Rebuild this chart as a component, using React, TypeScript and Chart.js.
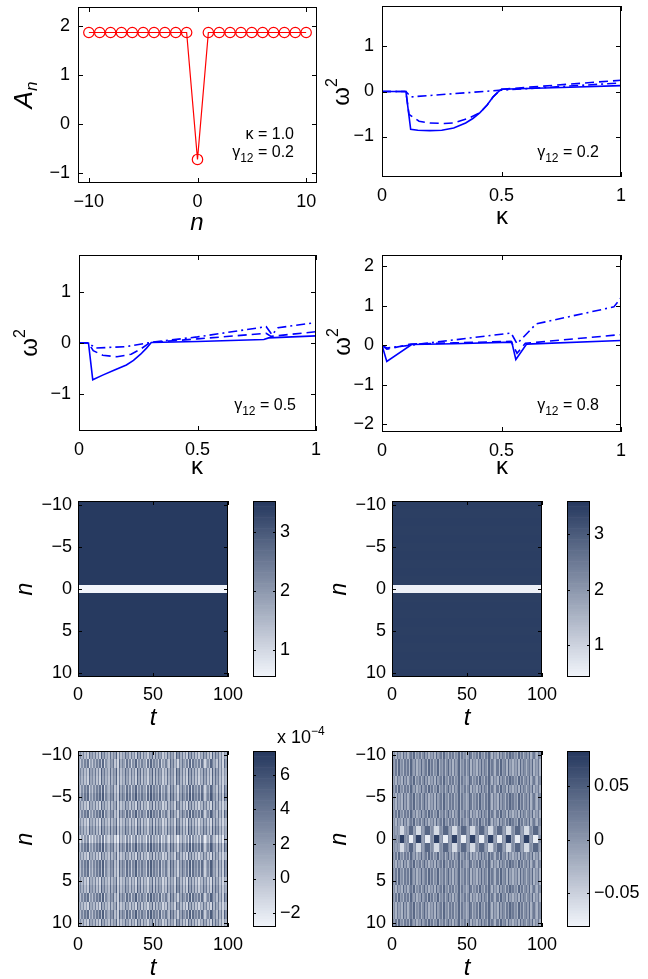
import { useEffect, useRef } from 'react';
import { Chart, registerables } from 'chart.js';

Chart.register(...registerables);

const PAGE_W = 648;
const PAGE_H = 979;
const FONT = '"Liberation Sans", Arial, Helvetica, sans-serif';
const TICK_FONT_SIZE = 18;

// ---------- Stationary profile A_n (kappa = 1.0, gamma12 = 0.2)
const SITES = [-10, -9, -8, -7, -6, -5, -4, -3, -2, -1, 0, 1, 2, 3, 4, 5, 6, 7, 8, 9, 10];
const AMPLITUDE = [1.87, 1.87, 1.87, 1.87, 1.87, 1.87, 1.87, 1.87, 1.87, 1.87, -0.72, 1.87, 1.87, 1.87, 1.87, 1.87, 1.87, 1.87, 1.87, 1.87, 1.87];

// ---------- Stability eigenvalues omega^2 versus kappa
// gamma12 = 0.2
const G02_SOLID_K = [0, 0.1, 0.12, 0.15, 0.2, 0.25, 0.3, 0.35, 0.38, 0.41, 0.44, 0.465, 0.49, 0.5, 0.75, 1];
const G02_SOLID_W = [0, 0, -0.84, -0.86, -0.87, -0.86, -0.81, -0.7, -0.6, -0.47, -0.3, -0.12, 0.01, 0.05, 0.09, 0.13];
const G02_DASH_K = [0, 0.1, 0.113, 0.155, 0.2, 0.26, 0.3, 0.36, 0.41, 0.44, 0.465, 0.49, 0.5, 1];
const G02_DASH_W = [0, 0, -0.51, -0.66, -0.7, -0.71, -0.7, -0.6, -0.47, -0.3, -0.12, 0.01, 0.05, 0.25];
const G02_DOT_K = [0, 0.1, 0.12, 0.5, 1];
const G02_DOT_W = [0, 0, -0.12, 0.03, 0.19];
// gamma12 = 0.5
const G05_SOLID_K = [0, 0.04, 0.058, 0.1, 0.15, 0.2, 0.23, 0.26, 0.285, 0.305, 0.5, 0.78, 0.8, 1];
const G05_SOLID_W = [0, 0, -0.72, -0.63, -0.53, -0.43, -0.34, -0.22, -0.1, 0.01, 0.03, 0.07, 0.1, 0.14];
const G05_DASH_K = [0, 0.04, 0.06, 0.1, 0.16, 0.22, 0.26, 0.3, 0.5, 0.79, 0.81, 1];
const G05_DASH_W = [0, 0, -0.15, -0.24, -0.27, -0.22, -0.12, 0.01, 0.08, 0.19, 0.13, 0.22];
const G05_DOT_K = [0, 0.04, 0.07, 0.2, 0.3, 0.5, 0.79, 0.815, 0.84, 1];
const G05_DOT_W = [0, 0, -0.1, -0.07, 0.01, 0.12, 0.32, 0.16, 0.3, 0.4];
// gamma12 = 0.8
const G08_SOLID_K = [0, 0.02, 0.124, 0.3, 0.543, 0.56, 0.605, 1];
const G08_SOLID_W = [0, -0.41, 0.02, 0.04, 0.08, -0.36, 0.03, 0.12];
const G08_DASH_K = [0, 0.02, 0.12, 0.3, 0.54, 0.565, 0.6, 1];
const G08_DASH_W = [0, -0.1, 0.03, 0.06, 0.1, -0.2, 0.05, 0.27];
const G08_DOT_K = [0, 0.02, 0.54, 0.565, 0.645, 0.97, 1];
const G08_DOT_W = [0, -0.07, 0.31, 0.04, 0.54, 0.97, 1.2];

// ---------- Tick values
const PROFILE_X_TICKS = [-10, 0, 10];
const PROFILE_Y_TICKS = [-1, 0, 1, 2];
const KAPPA_TICKS = [0, 0.5, 1];
const OMEGA_TICKS = [-1, 0, 1];
const OMEGA_TICKS_WIDE = [-2, -1, 0, 1, 2];
const TIME_TICKS = [0, 50, 100];
const SITE_TICKS = [-10, -5, 0, 5, 10];
const DENSITY_CB_TICKS = [1, 2, 3];
const PERT_SMALL_CB_TICKS = [-2, 0, 2, 4, 6];
const PERT_LARGE_CB_TICKS = [-0.05, 0, 0.05];

// ---------- |A_n|^2 evolution (rows n = -10..10, constant in t)
const DENSITY_ROWS_LEFT = [3.49, 3.49, 3.49, 3.49, 3.49, 3.49, 3.49, 3.49, 3.49, 3.49, 0.53, 3.49, 3.49, 3.49, 3.49, 3.49, 3.49, 3.49, 3.49, 3.49, 3.49];
const DENSITY_ROWS_RIGHT = [3.5, 3.49, 3.5, 3.49, 3.5, 3.49, 3.5, 3.49, 3.5, 3.49, 0.5, 3.49, 3.5, 3.49, 3.5, 3.49, 3.5, 3.49, 3.5, 3.49, 3.5];

// ---------- Perturbation evolution, small (x 1e-4): column level strings, per-row pattern and shift
const SMALL_LEVELS = [-1.6, -0.85, -0.1, 0.65, 1.4, 2.15, 2.9, 3.65, 4.4, 5.15];
const SMALL_COL_A = ['4636251846', '3726194735', '2836491725', '3846273619', '4827351649', '2837461528', '3746195837', '2619483726', '1538472619', '3847261538'];
const SMALL_COL_B = ['5263748152', '6374829164', '3758261947', '5283716492', '6374518293', '7462815374', '2958361748', '5372918463', '7285146397', '4628371952'];
const SMALL_ROW_PATTERN = ['a', 'b', 'a', 'a', 'b', 'b', 'a', 'b', 'a', 'a', 'b', 'b', 'a', 'b', 'b', 'a', 'a', 'b', 'a', 'b', 'a'];
const SMALL_ROW_SHIFT = [0.2, -0.3, 0.3, 0, -0.2, 0.4, -0.1, 0.1, -0.3, 0.5, -1.5, 0.3, -0.2, 0.2, 0, -0.3, 0.3, 0.1, -0.2, 0.2, 0];

// ---------- Perturbation evolution, large
const LARGE_LEVELS = [-0.075, -0.058, -0.042, -0.025, -0.008, 0.008, 0.025, 0.042, 0.058, 0.075];
const LARGE_COL_A = ['4536453746', '3564735463', '5746354637', '4563745364', '6354736453', '4763546374', '5364753645', '3746536475', '6453746356', '4735643657'];
const LARGE_COL_B = ['5463745364', '6375463547', '4563746354', '7354635746', '3645735463', '5736453647', '4653746536', '6374563745', '3546374653', '5647354636'];
const LARGE_CENTER = ['45545', '999', '545', '000', '45', '999', '545', '000', '454', '999', '545', '000', '545', '999', '454', '000', '545', '999', '545', '000', '454', '999', '545', '000', '545', '999', '454', '000', '545', '999', '545', '000', '454'];
const LARGE_NEAR = ['45454', '111', '454', '777', '45', '111', '545', '777', '454', '111', '454', '777', '545', '111', '454', '777', '545', '111', '454', '777', '545', '111', '454', '777', '545', '111', '454', '777', '545', '111', '454', '777', '545'];
const LARGE_ROW_PATTERN = ['a', 'b', 'b', 'a', 'b', 'a', 'a', 'b', 'a', 'near', 'center', 'near', 'b', 'a', 'b', 'b', 'a', 'b', 'a', 'a', 'b'];

// ---------- Colour map (light -> dark navy)
const CMAP_LIGHT = [242, 245, 251];
const CMAP_DARK = [37, 56, 94];

function shade(f: number) {
  const g = Math.max(0, Math.min(1, f));
  const c = CMAP_LIGHT.map((l, i) => Math.round(l + (CMAP_DARK[i] - l) * g));
  return `rgb(${c[0]},${c[1]},${c[2]})`;
}

function fmtTick(v: number) {
  const s = String(Math.round(Math.abs(v) * 1e6) / 1e6);
  return v < 0 ? '\u2212' + s : s;
}

type Box = { left: number; top: number; right: number; bottom: number };
const Y_AXIS_SPACE = 60;
const X_AXIS_SPACE = 40;
const CB_AXIS_SPACE = 56;

function plotLayout(b: Box) {
  return {
    padding: {
      left: b.left - Y_AXIS_SPACE,
      top: b.top,
      right: PAGE_W - b.right,
      bottom: PAGE_H - b.bottom - X_AXIS_SPACE,
    },
  };
}

function linAxis(min: number, max: number, ticks: number[], space: number, pad: number, extra: any = {}) {
  return {
    type: 'linear',
    min,
    max,
    grid: { display: false, drawTicks: false },
    border: { display: false },
    ticks: {
      color: '#000',
      font: { family: FONT, size: TICK_FONT_SIZE },
      padding: pad,
      autoSkip: false,
      maxRotation: 0,
      minRotation: 0,
      callback: (v: any) => fmtTick(Number(v)),
    },
    afterBuildTicks: (s: any) => {
      s.ticks = ticks.map((value) => ({ value }));
    },
    afterFit: (s: any) => {
      if (s.isHorizontal()) s.height = space;
      else s.width = space;
      s.paddingLeft = 0;
      s.paddingRight = 0;
      s.paddingTop = 0;
      s.paddingBottom = 0;
    },
    ...extra,
  };
}

const BASE_OPTIONS = {
  responsive: false,
  animation: false,
  devicePixelRatio: 1,
  events: [],
  plugins: { legend: { display: false }, tooltip: { enabled: false } },
};

// ---------- Plugins
function frameTicks(len: number) {
  return {
    id: 'frameTicks',
    afterDatasetsDraw(chart: any) {
      const { ctx, chartArea: a, scales } = chart;
      ctx.save();
      ctx.strokeStyle = '#000';
      ctx.lineWidth = 1;
      ctx.beginPath();
      for (const s of Object.values(scales) as any[]) {
        if (s.options.display === false) continue;
        for (const t of s.ticks) {
          const p = Math.round(s.getPixelForValue(t.value)) + 0.5;
          if (s.isHorizontal()) {
            ctx.moveTo(p, a.bottom);
            ctx.lineTo(p, a.bottom - len);
            ctx.moveTo(p, a.top);
            ctx.lineTo(p, a.top + len);
          } else {
            ctx.moveTo(a.left, p);
            ctx.lineTo(a.left + len, p);
            ctx.moveTo(a.right, p);
            ctx.lineTo(a.right - len, p);
          }
        }
      }
      ctx.stroke();
      ctx.strokeRect(a.left + 0.5, a.top + 0.5, a.width - 1, a.height - 1);
      ctx.restore();
    },
  };
}

type Part = { t: string; size: number; italic?: boolean; dy?: number };
type RichItem = { x: number; y: number; parts: Part[]; align?: 'left' | 'center' | 'right'; rotate?: boolean };

function richText(items: RichItem[]) {
  return {
    id: 'richText',
    afterDraw(chart: any) {
      const ctx = chart.ctx;
      for (const it of items) {
        ctx.save();
        ctx.translate(it.x, it.y);
        if (it.rotate) ctx.rotate(-Math.PI / 2);
        ctx.fillStyle = '#000';
        ctx.textBaseline = 'alphabetic';
        ctx.textAlign = 'left';
        const fontOf = (p: Part) => `${p.italic ? 'italic ' : ''}${p.size}px ${FONT}`;
        const widths = it.parts.map((p) => {
          ctx.font = fontOf(p);
          return ctx.measureText(p.t).width;
        });
        const total = widths.reduce((s, w) => s + w, 0);
        let x = it.align === 'center' ? -total / 2 : it.align === 'right' ? -total : 0;
        it.parts.forEach((p, i) => {
          ctx.font = fontOf(p);
          ctx.fillText(p.t, x, p.dy || 0);
          x += widths[i];
        });
        ctx.restore();
      }
    },
  };
}

// Cells are snapped to whole pixels so neighbouring rows/columns meet without seams.
function cellLayer(cmin: number, cmax: number) {
  return {
    id: 'cellLayer',
    beforeDatasetsDraw(chart: any) {
      const { ctx, chartArea: a } = chart;
      const xs = chart.scales.x;
      const ys = chart.scales.y;
      ctx.save();
      ctx.beginPath();
      ctx.rect(a.left, a.top, a.width, a.height);
      ctx.clip();
      for (const c of chart.data.datasets[0].data) {
        const xa = Math.round(xs.getPixelForValue(c.x0));
        const xb = Math.round(xs.getPixelForValue(c.x1));
        const ya = Math.round(ys.getPixelForValue(c.y - 0.5));
        const yb = Math.round(ys.getPixelForValue(c.y + 0.5));
        ctx.fillStyle = shade((c.v - cmin) / (cmax - cmin));
        ctx.fillRect(Math.min(xa, xb), Math.min(ya, yb), Math.max(1, Math.abs(xb - xa)), Math.max(1, Math.abs(yb - ya)));
      }
      ctx.restore();
    },
  };
}

function bandLayer(cmin: number, cmax: number, step: number) {
  return {
    id: 'bandLayer',
    beforeDatasetsDraw(chart: any) {
      const { ctx, chartArea: a } = chart;
      const ys = chart.scales.y;
      ctx.save();
      ctx.beginPath();
      ctx.rect(a.left, a.top, a.width, a.height);
      ctx.clip();
      for (const p of chart.data.datasets[0].data) {
        const y0 = ys.getPixelForValue(p.y - step / 2);
        const y1 = ys.getPixelForValue(p.y + step / 2);
        ctx.fillStyle = shade((p.y - cmin) / (cmax - cmin));
        ctx.fillRect(a.left, Math.min(y0, y1) - 0.3, a.width, Math.abs(y1 - y0) + 0.6);
      }
      ctx.restore();
    },
  };
}

// ---------- Builders
const SOLID: number[] = [];
const DASHED = [9, 5];
const DASH_DOT = [9, 4, 2, 4];

function branch(k: number[], w: number[], dash: number[]) {
  return {
    data: k.map((x, i) => ({ x, y: w[i] })),
    showLine: true,
    borderColor: '#0000ff',
    borderWidth: 1.6,
    borderDash: dash,
    pointRadius: 0,
    fill: false,
    tension: 0,
  };
}

function gammaLabel(x: number, y: number, value: string): RichItem {
  return {
    x,
    y,
    align: 'right',
    parts: [
      { t: '\u03b3', size: 16 },
      { t: '12', size: 12, dy: 5 },
      { t: ' = ' + value, size: 16 },
    ],
  };
}

function omegaLabel(x: number, y: number): RichItem {
  return { x, y, rotate: true, align: 'center', parts: [{ t: '\u03c9', size: 24 }, { t: '2', size: 16, dy: -12 }] };
}

function kappaLabel(x: number, y: number): RichItem {
  return { x, y, align: 'center', parts: [{ t: '\u03ba', size: 24 }] };
}

function buildProfile() {
  const box = { left: 78, top: 7, right: 317, bottom: 183 };
  return {
    type: 'scatter',
    data: {
      datasets: [
        {
          data: SITES.map((n, i) => ({ x: n, y: AMPLITUDE[i] })),
          showLine: true,
          borderColor: '#ff0000',
          borderWidth: 1.2,
          pointRadius: 5.2,
          pointBorderColor: '#ff0000',
          pointBackgroundColor: 'rgba(0,0,0,0)',
          pointBorderWidth: 1.2,
          tension: 0,
        },
      ],
    },
    options: {
      ...BASE_OPTIONS,
      layout: plotLayout(box),
      scales: {
        x: linAxis(-11, 11, PROFILE_X_TICKS, X_AXIS_SPACE, 8),
        y: linAxis(-1.2, 2.39, PROFILE_Y_TICKS, Y_AXIS_SPACE, 8),
      },
    },
    plugins: [
      frameTicks(5),
      richText([
        { x: 32, y: 95, rotate: true, align: 'center', parts: [{ t: 'A', size: 26, italic: true }, { t: 'n', size: 17, italic: true, dy: 5 }] },
        { x: 197, y: 230, align: 'center', parts: [{ t: 'n', size: 24, italic: true }] },
        { x: 294, y: 139, align: 'right', parts: [{ t: '\u03ba = 1.0', size: 16 }] },
        gammaLabel(294, 157, '0.2'),
      ]),
    ],
  };
}

function omegaPanel(
  box: Box,
  yMin: number,
  yMax: number,
  yTicks: number[],
  sets: [number[], number[], number[], number[], number[], number[]],
  labels: RichItem[],
) {
  const [sk, sw, dk, dw, ok, ow] = sets;
  return {
    type: 'scatter',
    data: { datasets: [branch(sk, sw, SOLID), branch(dk, dw, DASHED), branch(ok, ow, DASH_DOT)] },
    options: {
      ...BASE_OPTIONS,
      layout: plotLayout(box),
      scales: {
        x: linAxis(0, 1, KAPPA_TICKS, X_AXIS_SPACE, 8),
        y: linAxis(yMin, yMax, yTicks, Y_AXIS_SPACE, 8),
      },
    },
    plugins: [frameTicks(5), richText(labels)],
  };
}

function buildOmega02() {
  return omegaPanel(
    { left: 382, top: 6, right: 621, bottom: 177 },
    -1.9,
    1.9,
    OMEGA_TICKS,
    [G02_SOLID_K, G02_SOLID_W, G02_DASH_K, G02_DASH_W, G02_DOT_K, G02_DOT_W],
    [omegaLabel(349, 92), kappaLabel(502, 224), gammaLabel(599, 157, '0.2')],
  );
}

function buildOmega05() {
  return omegaPanel(
    { left: 79, top: 255, right: 316, bottom: 431 },
    -1.725,
    1.725,
    OMEGA_TICKS,
    [G05_SOLID_K, G05_SOLID_W, G05_DASH_K, G05_DASH_W, G05_DOT_K, G05_DOT_W],
    [omegaLabel(37, 343), kappaLabel(197, 474), gammaLabel(296, 410, '0.5')],
  );
}

function buildOmega08() {
  return omegaPanel(
    { left: 382, top: 255, right: 621, bottom: 432 },
    -2.19,
    2.28,
    OMEGA_TICKS_WIDE,
    [G08_SOLID_K, G08_SOLID_W, G08_DASH_K, G08_DASH_W, G08_DOT_K, G08_DOT_W],
    [omegaLabel(350, 342), kappaLabel(502, 474), gammaLabel(599, 410, '0.8')],
  );
}

type Cell = { x: number; y: number; x0: number; x1: number; v: number };

function uniformRows(rows: number[]): Cell[] {
  return SITES.map((n, r) => ({ x: 50, y: n, x0: 0, x1: 100, v: rows[r] }));
}

function levelRows(pattern: string[], columns: Record<string, string>, levels: number[], shift?: number[]): Cell[] {
  const cells: Cell[] = [];
  SITES.forEach((n, r) => {
    const row = columns[pattern[r]];
    for (let t = 0; t < row.length; t++) {
      cells.push({ x: t + 0.5, y: n, x0: t, x1: t + 1, v: levels[Number(row[t])] + (shift ? shift[r] : 0) });
    }
  });
  return cells;
}

function heatmapConfig(box: Box, cells: Cell[], cmin: number, cmax: number, labels: RichItem[]) {
  return {
    type: 'scatter',
    data: { datasets: [{ data: cells, pointRadius: 0, showLine: false }] },
    options: {
      ...BASE_OPTIONS,
      layout: plotLayout(box),
      scales: {
        x: linAxis(0, 100, TIME_TICKS, X_AXIS_SPACE, 7),
        y: linAxis(-10.5, 10.5, SITE_TICKS, Y_AXIS_SPACE, 6, { reverse: true }),
      },
    },
    plugins: [cellLayer(cmin, cmax), frameTicks(4), richText(labels)],
  };
}

function colorbarConfig(box: Box, cmin: number, cmax: number, ticks: number[], labels: RichItem[]) {
  const n = 64;
  const step = (cmax - cmin) / n;
  const levels = Array.from({ length: n }, (_, i) => cmin + step * (i + 0.5));
  return {
    type: 'scatter',
    data: { datasets: [{ data: levels.map((v) => ({ x: 0.5, y: v })), pointRadius: 0, showLine: false }] },
    options: {
      ...BASE_OPTIONS,
      layout: {
        padding: {
          left: box.left,
          top: box.top,
          right: PAGE_W - box.right - CB_AXIS_SPACE,
          bottom: PAGE_H - box.bottom,
        },
      },
      scales: {
        x: { type: 'linear', display: false, min: 0, max: 1 },
        y: linAxis(cmin, cmax, ticks, CB_AXIS_SPACE, 4, { position: 'right' }),
      },
    },
    plugins: [bandLayer(cmin, cmax, step), frameTicks(3), richText(labels)],
  };
}

const siteLabel = (x: number, y: number): RichItem => ({ x, y, rotate: true, align: 'center', parts: [{ t: 'n', size: 23, italic: true }] });
const timeLabel = (x: number, y: number): RichItem => ({ x, y, align: 'center', parts: [{ t: 't', size: 24, italic: true }] });

const BOX_E = { left: 78, top: 501, right: 228, bottom: 677 };
const BOX_F = { left: 392, top: 501, right: 542, bottom: 677 };
const BOX_G = { left: 78, top: 751, right: 228, bottom: 927 };
const BOX_H = { left: 392, top: 751, right: 542, bottom: 927 };
const CB_E = { left: 253, top: 501, right: 276, bottom: 677 };
const CB_F = { left: 567, top: 501, right: 590, bottom: 677 };
const CB_G = { left: 253, top: 751, right: 276, bottom: 927 };
const CB_H = { left: 567, top: 751, right: 590, bottom: 927 };

const DENS_L_RANGE: [number, number] = [0.54, 3.52];
const DENS_R_RANGE: [number, number] = [0.42, 3.6];
const SMALL_RANGE: [number, number] = [-2.81, 7.39];
const LARGE_RANGE: [number, number] = [-0.082, 0.083];

function buildDensityLeft() {
  return heatmapConfig(BOX_E, uniformRows(DENSITY_ROWS_LEFT), ...DENS_L_RANGE, [siteLabel(32, 589), timeLabel(153, 725)]);
}
function buildDensityRight() {
  return heatmapConfig(BOX_F, uniformRows(DENSITY_ROWS_RIGHT), ...DENS_R_RANGE, [siteLabel(346, 589), timeLabel(467, 725)]);
}
function buildSmall() {
  const cells = levelRows(SMALL_ROW_PATTERN, { a: SMALL_COL_A.join(''), b: SMALL_COL_B.join('') }, SMALL_LEVELS, SMALL_ROW_SHIFT);
  return heatmapConfig(BOX_G, cells, ...SMALL_RANGE, [siteLabel(32, 839), timeLabel(153, 975)]);
}
function buildLarge() {
  const cells = levelRows(
    LARGE_ROW_PATTERN,
    { a: LARGE_COL_A.join(''), b: LARGE_COL_B.join(''), near: LARGE_NEAR.join(''), center: LARGE_CENTER.join('') },
    LARGE_LEVELS,
  );
  return heatmapConfig(BOX_H, cells, ...LARGE_RANGE, [siteLabel(346, 839), timeLabel(467, 975)]);
}
function buildCbE() {
  return colorbarConfig(CB_E, ...DENS_L_RANGE, DENSITY_CB_TICKS, []);
}
function buildCbF() {
  return colorbarConfig(CB_F, ...DENS_R_RANGE, DENSITY_CB_TICKS, []);
}
function buildCbG() {
  return colorbarConfig(CB_G, ...SMALL_RANGE, PERT_SMALL_CB_TICKS, [
    { x: 277, y: 743, align: 'left', parts: [{ t: 'x 10', size: 18 }, { t: '\u22124', size: 12, dy: -8 }] },
  ]);
}
function buildCbH() {
  return colorbarConfig(CB_H, ...LARGE_RANGE, PERT_LARGE_CB_TICKS, []);
}

const BUILDERS = [
  buildProfile,
  buildOmega02,
  buildOmega05,
  buildOmega08,
  buildDensityLeft,
  buildCbE,
  buildDensityRight,
  buildCbF,
  buildSmall,
  buildCbG,
  buildLarge,
  buildCbH,
];

function ChartLayer({ build }: { build: () => any }) {
  const ref = useRef<HTMLCanvasElement>(null);
  useEffect(() => {
    if (!ref.current) return;
    const chart = new Chart(ref.current, build());
    return () => chart.destroy();
  }, [build]);
  return (
    <canvas
      ref={ref}
      width={PAGE_W}
      height={PAGE_H}
      style={{ position: 'absolute', left: 0, top: 0, width: PAGE_W, height: PAGE_H }}
    />
  );
}

export default function App() {
  return (
    <div style={{ position: 'absolute', left: 0, top: 0, width: PAGE_W, height: PAGE_H, background: '#fff', overflow: 'hidden' }}>
      {BUILDERS.map((b, i) => (
        <ChartLayer key={i} build={b} />
      ))}
    </div>
  );
}
